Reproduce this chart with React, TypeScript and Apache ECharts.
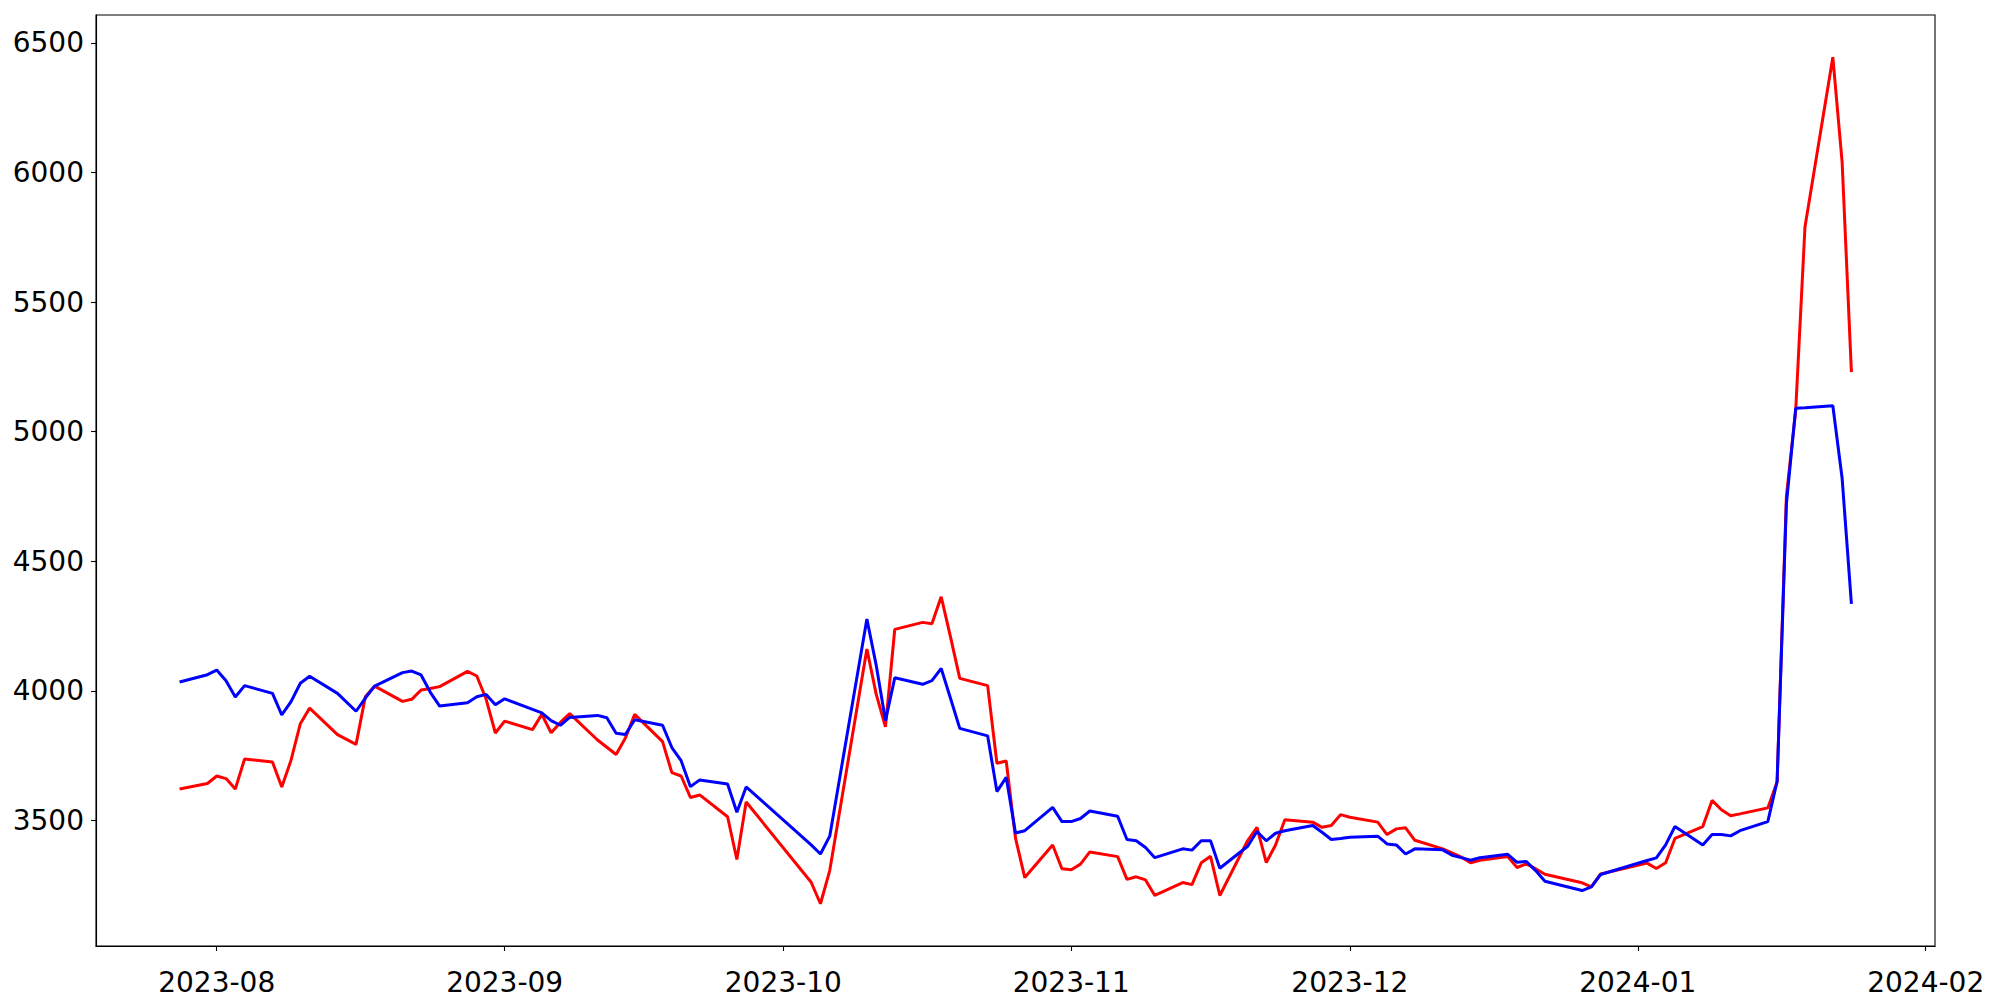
import React, { useEffect, useRef } from "react";
import * as echarts from "echarts";

const dates: string[] = [
  "2023-07-28", "2023-07-31", "2023-08-01", "2023-08-02", "2023-08-03", "2023-08-04",
  "2023-08-07", "2023-08-08", "2023-08-09", "2023-08-10", "2023-08-11",
  "2023-08-14", "2023-08-16", "2023-08-17", "2023-08-18",
  "2023-08-21", "2023-08-22", "2023-08-23", "2023-08-24", "2023-08-25",
  "2023-08-28", "2023-08-29", "2023-08-30", "2023-08-31", "2023-09-01",
  "2023-09-04", "2023-09-05", "2023-09-06", "2023-09-07", "2023-09-08",
  "2023-09-11", "2023-09-12", "2023-09-13", "2023-09-14", "2023-09-15",
  "2023-09-18", "2023-09-19", "2023-09-20", "2023-09-21", "2023-09-22",
  "2023-09-25", "2023-09-26", "2023-09-27",
  "2023-10-04", "2023-10-05", "2023-10-06",
  "2023-10-10", "2023-10-11", "2023-10-12", "2023-10-13",
  "2023-10-16", "2023-10-17", "2023-10-18", "2023-10-19", "2023-10-20",
  "2023-10-23", "2023-10-24", "2023-10-25", "2023-10-26", "2023-10-27",
  "2023-10-30", "2023-10-31", "2023-11-01", "2023-11-02", "2023-11-03",
  "2023-11-06", "2023-11-07", "2023-11-08", "2023-11-09", "2023-11-10",
  "2023-11-13", "2023-11-14", "2023-11-15", "2023-11-16", "2023-11-17",
  "2023-11-20", "2023-11-21", "2023-11-22", "2023-11-23", "2023-11-24",
  "2023-11-27", "2023-11-28", "2023-11-29", "2023-11-30", "2023-12-01",
  "2023-12-04", "2023-12-05", "2023-12-06", "2023-12-07", "2023-12-08",
  "2023-12-11", "2023-12-12", "2023-12-13", "2023-12-14", "2023-12-15",
  "2023-12-18", "2023-12-19", "2023-12-20", "2023-12-21", "2023-12-22",
  "2023-12-26", "2023-12-27", "2023-12-28",
  "2024-01-02", "2024-01-03", "2024-01-04", "2024-01-05",
  "2024-01-08", "2024-01-09", "2024-01-10", "2024-01-11", "2024-01-12",
  "2024-01-15", "2024-01-16", "2024-01-17", "2024-01-18", "2024-01-19",
  "2024-01-22", "2024-01-23", "2024-01-24",
];

const redValues: number[] = [
  3621, 3642, 3671, 3661, 3621, 3737,
  3725, 3629, 3732, 3873, 3933,
  3831, 3793, 3977, 4018,
  3959, 3967, 4003, 4009, 4016,
  4075, 4057, 3968, 3837, 3883,
  3850, 3909, 3838, 3878, 3912,
  3810, 3782, 3754, 3818, 3909,
  3804, 3684, 3671, 3588, 3598,
  3514, 3349, 3571,
  3261, 3178, 3306,
  4161, 3987, 3861, 4237,
  4264, 4259, 4363, 4208, 4048,
  4020, 3720, 3729, 3431, 3279,
  3405, 3313, 3309, 3331, 3378,
  3360, 3272, 3282, 3270, 3210,
  3260, 3252, 3336, 3361, 3210,
  3422, 3473, 3337, 3405, 3502,
  3493, 3473, 3480, 3522, 3512,
  3493, 3445, 3467, 3471, 3423,
  3390, 3374, 3358, 3336, 3346,
  3360, 3318, 3332, 3313, 3292,
  3259, 3243, 3293,
  3335, 3314, 3336, 3430,
  3476, 3577, 3541, 3518, 3525,
  3548, 3648, 4750, 5080, 5790,
  6445, 6040, 5230,
];

const blueValues: number[] = [
  4034, 4062, 4080, 4039, 3976, 4020,
  3990, 3907, 3958, 4029, 4056,
  3990, 3921, 3972, 4018,
  4070, 4076, 4061, 3994, 3941,
  3954, 3977, 3986, 3946, 3969,
  3928, 3915, 3885, 3867, 3897,
  3905, 3896, 3836, 3831, 3888,
  3867, 3781, 3730, 3630, 3656,
  3640, 3531, 3629,
  3405, 3370, 3439,
  4277, 4099, 3885, 4050,
  4025, 4039, 4086, 3971, 3855,
  3826, 3611, 3666, 3451, 3460,
  3550, 3495, 3495, 3507, 3536,
  3516, 3426, 3421, 3395, 3356,
  3390, 3385, 3421, 3421, 3315,
  3400, 3457, 3421, 3450, 3460,
  3480, 3454, 3426, 3430, 3435,
  3439, 3409, 3405, 3370, 3390,
  3386, 3365, 3356, 3346, 3356,
  3369, 3338, 3341, 3306, 3265,
  3229, 3243, 3291,
  3345, 3355, 3405, 3476,
  3405, 3445, 3445, 3440, 3460,
  3495, 3650, 4720, 5090, 5092,
  5100, 4820, 4335,
];

const yTicks: number[] = [3500, 4000, 4500, 5000, 5500, 6000, 6500];
const xTickMonths: string[] = [
  "2023-08-01", "2023-09-01", "2023-10-01", "2023-11-01",
  "2023-12-01", "2024-01-01", "2024-02-01",
];

function ts(s: string): number {
  const [y, m, d] = s.split("-").map(Number);
  return new Date(y, m - 1, d).getTime();
}

function pad2(n: number): string {
  return n < 10 ? "0" + n : String(n);
}

export default function App() {
  const ref = useRef<HTMLDivElement>(null);

  useEffect(() => {
    if (!ref.current) return;
    const chart = echarts.init(ref.current, undefined, { renderer: "svg" });
    const font = "DejaVu Sans";
    const xTicks = xTickMonths.map(ts);
    const option: any = {
      animation: false,
      backgroundColor: "#ffffff",
      grid: {
        left: 96,
        right: 65,
        top: 15,
        bottom: 54,
        show: true,
        borderColor: "#000000",
        borderWidth: 1.1,
        backgroundColor: "transparent",
      },
      xAxis: {
        type: "value",
        min: ts("2023-07-19"),
        max: ts("2024-02-02"),
        scale: true,
        splitLine: { show: false },
        axisLine: { show: true, lineStyle: { color: "#000", width: 1.1 } },
        axisTick: {
          show: true,
          length: 5,
          lineStyle: { color: "#000", width: 1.1 },
          customValues: xTicks,
        },
        axisLabel: {
          show: true,
          color: "#000",
          fontFamily: font,
          fontSize: 28,
          margin: 22,
          customValues: xTicks,
          formatter: (v: number) => {
            const d = new Date(v);
            return d.getFullYear() + "-" + pad2(d.getMonth() + 1);
          },
        },
      },
      yAxis: {
        type: "value",
        min: 3015,
        max: 6608,
        splitLine: { show: false },
        axisLine: { show: true, lineStyle: { color: "#000", width: 1.1 } },
        axisTick: {
          show: true,
          length: 5,
          lineStyle: { color: "#000", width: 1.1 },
          customValues: yTicks,
        },
        axisLabel: {
          show: true,
          color: "#000",
          fontFamily: font,
          fontSize: 28,
          margin: 12,
          customValues: yTicks,
          formatter: (v: number) => String(v),
        },
      },
      series: [
        {
          type: "line",
          data: dates.map((d, i) => [ts(d), redValues[i]]),
          showSymbol: false,
          symbol: "none",
          lineStyle: { color: "#ff0000", width: 3 },
          itemStyle: { color: "#ff0000" },
          z: 2,
        },
        {
          type: "line",
          data: dates.map((d, i) => [ts(d), blueValues[i]]),
          showSymbol: false,
          symbol: "none",
          lineStyle: { color: "#0000ff", width: 3 },
          itemStyle: { color: "#0000ff" },
          z: 3,
        },
      ],
    };
    chart.setOption(option);
    return () => chart.dispose();
  }, []);

  return (
    <div
      ref={ref}
      style={{ position: "absolute", left: 0, top: 0, width: 2000, height: 1000 }}
    />
  );
}
